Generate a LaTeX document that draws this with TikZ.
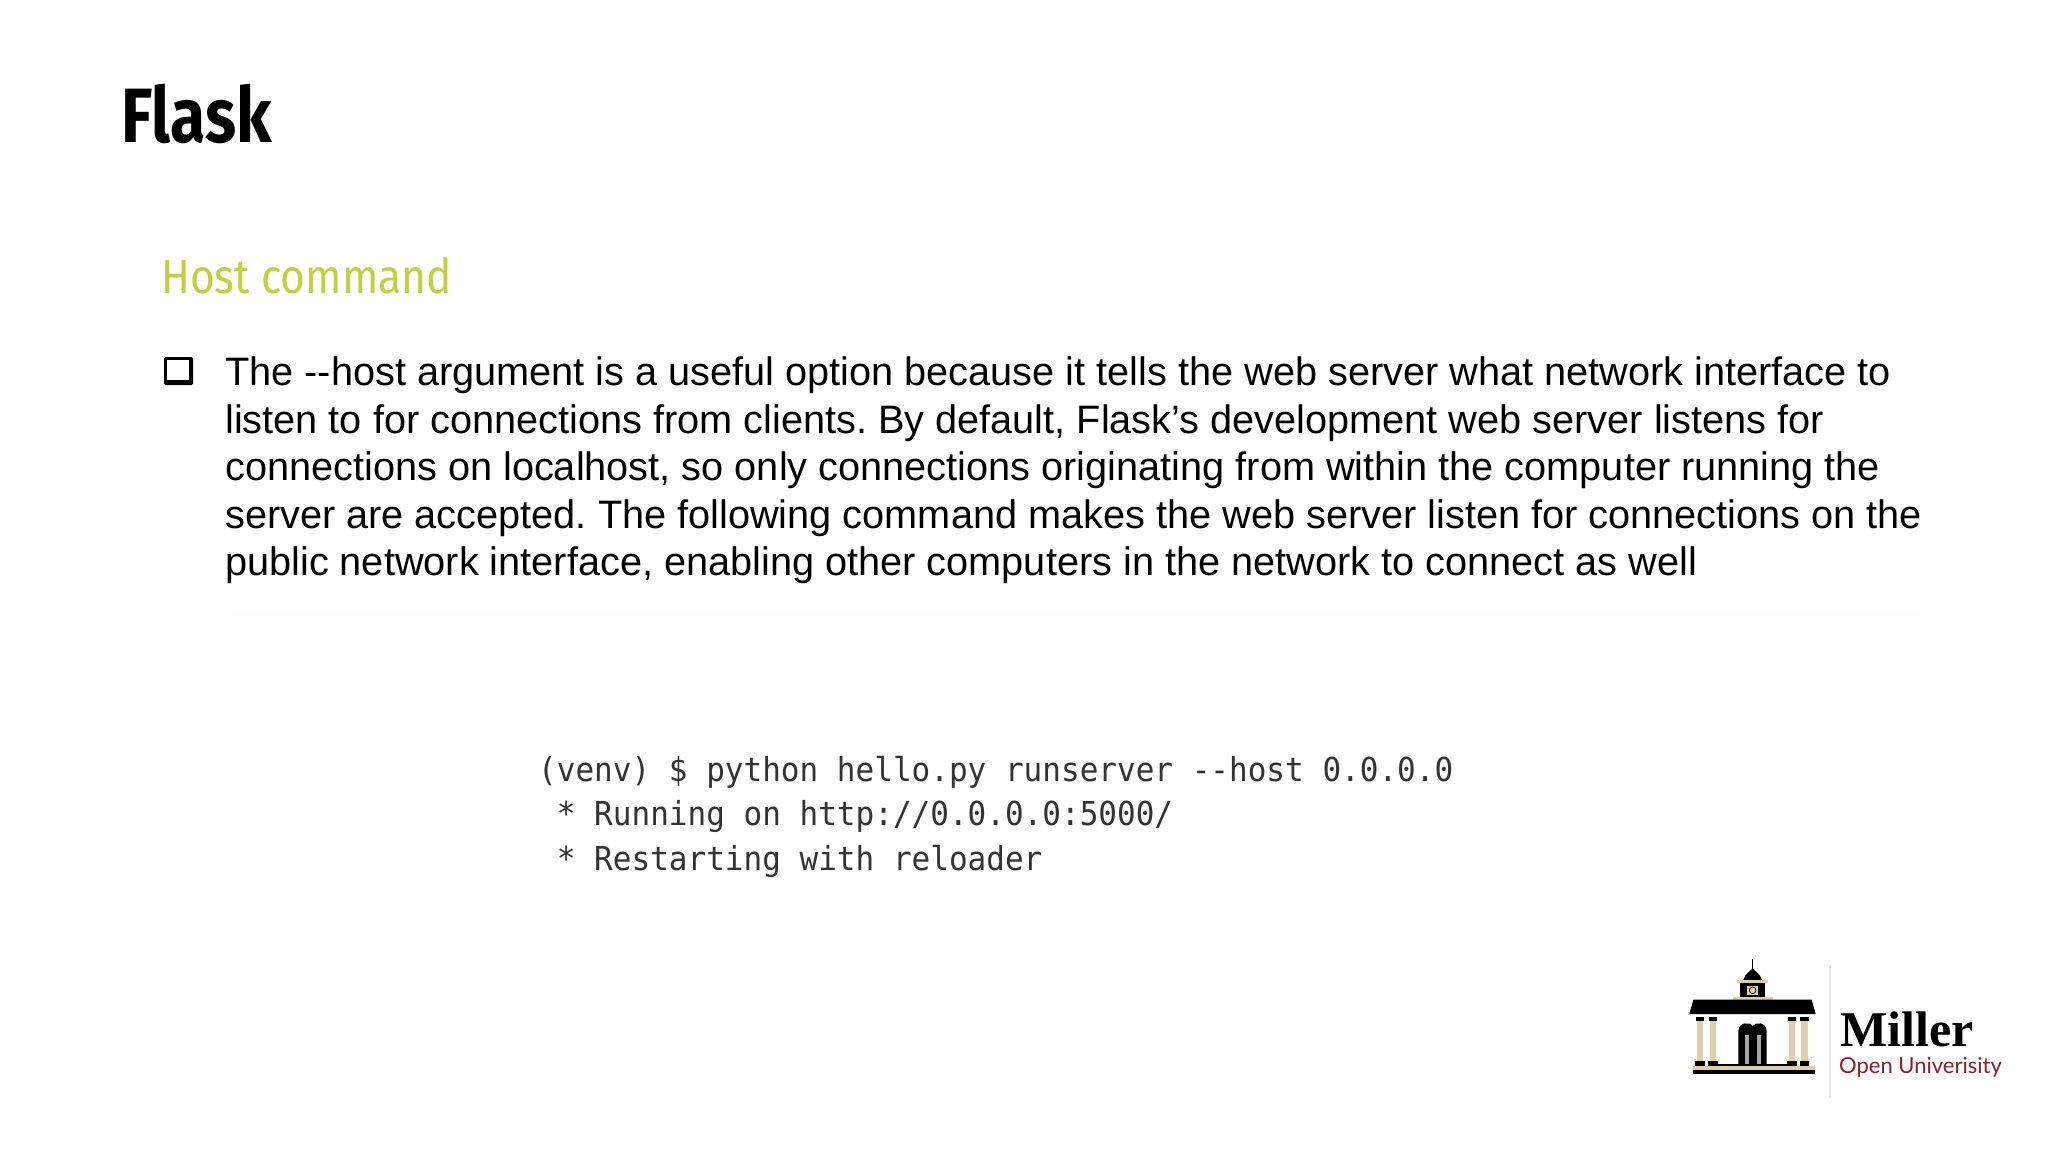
\documentclass[tikz,border=0pt]{standalone}
\usepackage{fontspec}
\setmainfont{Liberation Sans}
\newfontfamily\titlefont[FakeStretch=0.835]{Fira Sans}
\newfontfamily\hostfont[FakeStretch=0.885]{Fira Sans}
\newfontfamily\codefont[FakeStretch=0.94]{DejaVu Sans Mono}
\newfontfamily\logofont{Liberation Serif}
\newfontfamily\unifont{Lato}
\definecolor{hostcolor}{HTML}{BFD23C}
\definecolor{codecolor}{HTML}{333333}
\definecolor{pillarcolor}{HTML}{DCCFB0}
\definecolor{unicolor}{HTML}{8A1F2E}
\usetikzlibrary{positioning}

\begin{document}
\begin{tikzpicture}[x=1pt, y=-1pt,
% define styles here
titletext/.style={anchor=base west, inner sep=0pt, text=black, font=\titlefont\bfseries\fontsize{77}{80}\selectfont},
hosttext/.style={anchor=base west, inner sep=0pt, text=hostcolor, font=\hostfont\fontsize{48}{52}\selectfont},
bodytext/.style={anchor=base west, inner sep=0pt, align=left, font=\frenchspacing\fontsize{39.7}{47.6}\selectfont},
codetext/.style={anchor=base west, inner sep=0pt, align=left, text=codecolor, font=\codefont\fontsize{33}{44.7}\selectfont},
roof/.style={fill=black, draw=none},
pillar/.style={fill=pillarcolor, draw=none}
]
\useasboundingbox (0, 0) rectangle (2048, 1152);
\fill[white] (0, 0) rectangle (2048, 1152);
\fill[black!0.5] (225, 610) rectangle (1920, 1152);

\node[titletext] (title) at (121, 142) {Flask};
\node[hosttext] (host) at (161, 293) {Host command};

% bullet
\fill[black, rounded corners=1.5] (164, 357) rectangle (193, 385);
\fill[white] (167, 360) rectangle (189, 380);

% anchor is the last line
\node[bodytext] (body) at (225, 575.8) {The {-}{-}host argument is a useful option because it tells the web server what network interface to\\
listen to for connections from clients. By default, Flask’s development web server listens for\\
connections on localhost, so only connections originating from within the computer running the\\
server are accepted. The following command makes the web server listen for connections on the\\
public network interface, enabling other computers in the network to connect as well};

\node[codetext] (code) at (538, 870.5) {(venv) \$ python hello.py runserver {-}{-}host 0.0.0.0\\
\ * Running on http://0.0.0.0:5000/\\
\ * Restarting with reloader};

% logo
\begin{scope}[shift={(1660, 940)}, x=0.3333pt, y=-0.3333pt]
\draw[black, line width=1] (278, 58) -- (278, 90);
\fill[roof] (250, 120) .. controls (255, 100) and (270, 95) .. (278, 85) .. controls (286, 95) and (300, 100) .. (306, 120) -- cycle;
\fill[pillar] (232, 120) rectangle (325, 130);
\fill[roof] (240, 130) rectangle (315, 172);
\fill[pillar] (262, 137) rectangle (293, 165);
\draw[black, line width=0.7] (278, 151) circle (10);
\fill[pillar] (218, 172) rectangle (338, 179);
\fill[roof] (100, 179) -- (455, 179) -- (467, 222) -- (88, 222) -- cycle;
\foreach \px in {120, 159, 396, 434} {
\fill[pillar] (\px-10, 244) rectangle (\px+10, 362);
\fill[roof] (\px-13, 231) rectangle (\px+13, 244);
\fill[roof] (\px-14, 362) rectangle (\px+14, 377);
}
\fill[roof] (235, 375) -- (235, 275) .. controls (235, 245) and (270, 245) .. (278, 258) .. controls (286, 245) and (320, 245) .. (320, 275) -- (320, 375) -- cycle;
\fill[black!35] (254, 285) rectangle (266, 375);
\fill[black!35] (290, 285) rectangle (302, 375);
\fill[roof] (172, 373) rectangle (383, 377);
\fill[pillar] (100, 377) rectangle (465, 391);
\fill[roof] (100, 391) rectangle (465, 401);
\fill[black!10] (507, 75) rectangle (512, 475);
\node[anchor=base west, inner sep=0pt, font=\logofont\bfseries\fontsize{50}{52}\selectfont] (miller) at (540, 318) {Miller};
\node[anchor=base west, inner sep=0pt, text=unicolor, font=\unifont\fontsize{22}{24}\selectfont] (uni) at (537, 400) {Open Univerisity};
\end{scope}
\end{tikzpicture}
\end{document}
